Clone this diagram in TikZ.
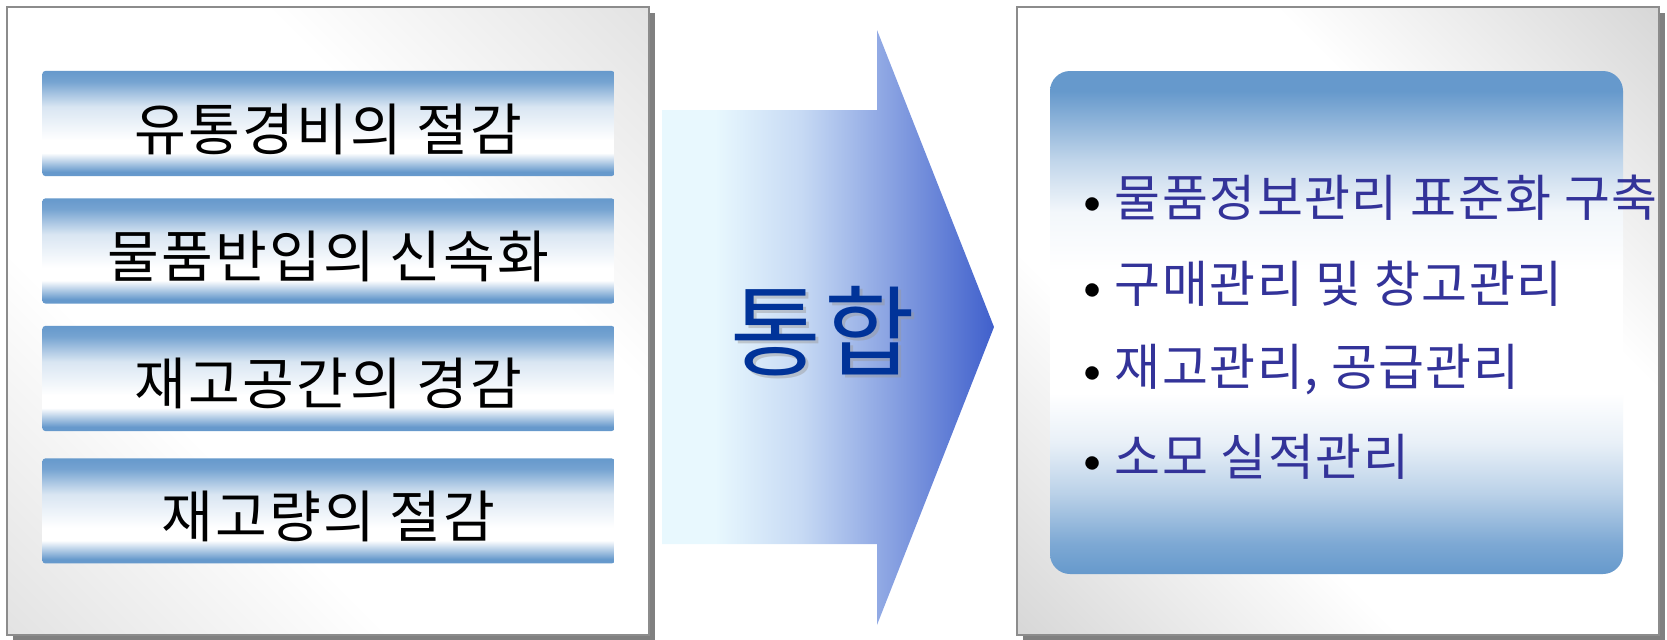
\documentclass[tikz,border=0pt]{standalone}
\usepackage{fontspec}
\newfontfamily\kr{Noto Sans CJK KR}[LetterSpace=4]
\newfontfamily\kritem{Noto Sans CJK KR}[LetterSpace=3]
\usepackage{xcolor}
\usetikzlibrary{positioning,calc}

\definecolor{barblue}{RGB}{102,153,204}
\definecolor{panelgrayL}{RGB}{226,226,226}
\definecolor{panelgrayR}{RGB}{214,214,214}
\definecolor{shadowgray}{RGB}{128,128,128}
\definecolor{framegray}{RGB}{140,140,140}
\definecolor{arrowlight}{RGB}{232,248,254}
\definecolor{arrowblue}{RGB}{64,96,204}
\definecolor{titleblue}{RGB}{0,51,153}
\definecolor{itemblue}{RGB}{51,51,153}

% bar: blue top and bottom, white band low in the middle
\pgfdeclareverticalshading{barshade}{100bp}{color(0bp)=(barblue); color(25bp)=(barblue); color(27bp)=(barblue); color(36bp)=(white); color(42bp)=(white); color(58bp)=(barblue!25); color(70bp)=(barblue!90); color(75bp)=(barblue); color(100bp)=(barblue)}
\pgfdeclareverticalshading{boxshade}{100bp}{color(0bp)=(barblue); color(25bp)=(barblue); color(28bp)=(barblue!85); color(33bp)=(barblue!45); color(38bp)=(barblue!15); color(43bp)=(white); color(55bp)=(white); color(61bp)=(barblue!8); color(66bp)=(barblue!40); color(73bp)=(barblue); color(100bp)=(barblue)}
\pgfdeclarehorizontalshading{arrowshade}{100bp}{color(0bp)=(arrowlight); color(25bp)=(arrowlight); color(33bp)=(arrowlight); color(46bp)=(arrowblue!20!arrowlight); color(57bp)=(arrowblue!50!arrowlight); color(75bp)=(arrowblue); color(100bp)=(arrowblue)}
% panels: grey in two opposite corners
\pgfdeclareverticalshading{panelshadeL}{100bp}{color(0bp)=(panelgrayL); color(14bp)=(panelgrayL); color(36bp)=(white); color(64bp)=(white); color(86bp)=(panelgrayL); color(100bp)=(panelgrayL)}
\pgfdeclareverticalshading{panelshadeR}{100bp}{color(0bp)=(panelgrayR); color(14bp)=(panelgrayR); color(36bp)=(white); color(64bp)=(white); color(86bp)=(panelgrayR); color(100bp)=(panelgrayR)}

\begin{document}
\begin{tikzpicture}[x=0.01cm,y=-0.01cm,
	barbox/.style={shading=barshade, rounded corners=0.03cm, minimum width=5.72cm, minimum height=1.05cm, inner sep=0pt, text height=0.53cm, text depth=0cm, font=\kr\fontsize{16}{19}\selectfont},
	item/.style={anchor=west, inner sep=0pt, text=itemblue, font=\kritem\fontsize{14.2}{17}\selectfont},
	panel/.style={draw=framegray, line width=0.02cm, shading angle=-45}]
								\def\sh{6}
								\useasboundingbox (0,0) rectangle (1667,639);
								% left panel
								\fill[shadowgray] (7+\sh,7+\sh) rectangle (649+\sh,635+\sh);
								\draw[panel, shading=panelshadeL] (7,7) rectangle (649,635);
								\node[barbox] (cost) at (328.5,123.5) {유통경비의 절감};
								\node[barbox, below=0.21cm of cost] (speed) {물품반입의 신속화};
								\node[barbox, below=0.21cm of speed] (space) {재고공간의 경감};
								\node[barbox, below=0.26cm of space] (stock) {재고량의 절감};
								% arrow
								\shade[shading=arrowshade] (662,110) -- (877,110) -- (877,30) -- (994,327) -- (877,625) -- (877,544) -- (662,544) -- cycle;
								\node[font=\kr\fontsize{28}{32}\selectfont, text=black!40, opacity=0.45] (mergeshadow) at (826,334) {통합};
								\node[font=\kr\fontsize{28}{32}\selectfont, text=titleblue] (merge) at (823,331) {통합};
								% right panel
								\fill[shadowgray] (1017+\sh,7+\sh) rectangle (1659+\sh,635+\sh);
								\draw[panel, shading=panelshadeR] (1017,7) rectangle (1659,635);
								\shade[shading=boxshade, rounded corners=0.2cm] (1050,71) rectangle (1623,574);
								\node[item] (item1) at (1073,198) {{\rmfamily\color{black}\textbullet}\hspace{0.03cm}물품정보관리 표준화 구축};
								\node[item] (item2) at (1073,284) {{\rmfamily\color{black}\textbullet}\hspace{0.03cm}구매관리 및 창고관리};
								\node[item] (item3) at (1073,370) {{\rmfamily\color{black}\textbullet}\hspace{0.03cm}재고관리, 공급관리};
								\node[item] (item4) at (1073,457) {{\rmfamily\color{black}\textbullet}\hspace{0.03cm}소모 실적관리};
							\end{tikzpicture}
\end{document}
